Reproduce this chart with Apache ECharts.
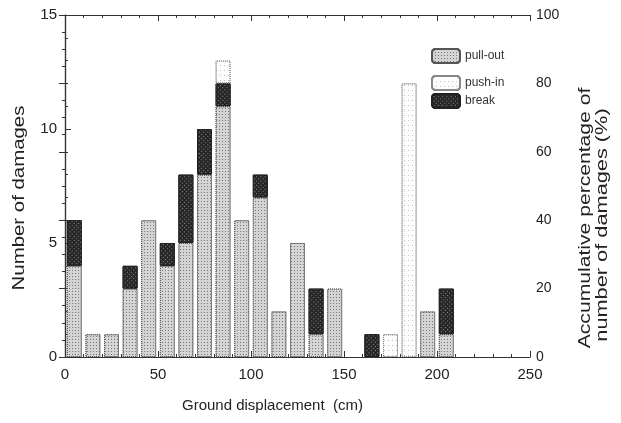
<!DOCTYPE html>
<html>
<head>
<meta charset="utf-8">
<script src="https://cdn.jsdelivr.net/npm/echarts@6/dist/echarts.min.js"></script>
<style>
  html, body { margin: 0; padding: 0; background: #fff; }
  #chart { width: 621px; height: 423px; }
</style>
</head>
<body>
<div id="chart"></div>
<script>
// 10 cm bins from 0 to 250, labelled by bin centre
var binCenters = [5, 15, 25, 35, 45, 55, 65, 75, 85, 95, 105, 115, 125, 135, 145, 155, 165, 175, 185, 195, 205, 215, 225, 235, 245];
var pullOut   = [4, 1, 1, 3, 6, 4, 5, 8, 11, 6, 7, 2, 5, 1, 3, 0, 0, 0, 0, 2, 1];
var breakCnt  = [2, 0, 0, 1, 0, 1, 3, 2, 1, 0, 1, 0, 0, 2, 0, 0, 1, 0, 0, 0, 2];
var pushIn    = [0, 0, 0, 0, 0, 0, 0, 0, 1, 0, 0, 0, 0, 0, 0, 0, 0, 1, 12, 0, 0];
var xTicks = [0, 50, 100, 150, 200, 250];
var leftTicks = [0, 5, 10, 15];
var rightTicks = [0, 20, 40, 60, 80, 100];

function nz(vals) {
    return vals.map(function (v) { return v ? v : '-'; });
}

var font = 'Liberation Sans';
var textColor = '#222';

var pullStyle = {
    color: '#d4d4d4',
    borderColor: '#555',
    borderWidth: 1,
    borderType: 'dotted',
    decal: { symbol: 'rect', symbolSize: 1, color: '#777', dashArrayX: [1, 2], dashArrayY: [1, 2] }
};
var pushStyle = {
    color: '#fcfcfc',
    borderColor: '#888',
    borderWidth: 1,
    borderType: 'dotted',
    decal: { symbol: 'rect', symbolSize: 1, color: '#c4c4c4', dashArrayX: [1, 3], dashArrayY: [1, 4] }
};
var breakStyle = {
    color: '#262626',
    borderColor: '#222',
    borderWidth: 1,
    decal: { symbol: 'rect', symbolSize: 1, color: '#8c8c8c', dashArrayX: [1, 2], dashArrayY: [1, 2], rotation: Math.PI / 4 }
};

var tickStyle = { color: '#333' };

function legendAt(name, top) {
    return {
        left: 426, top: top,
        itemWidth: 28, itemHeight: 14,
        data: [name],
        textStyle: { fontFamily: font, fontSize: 12, color: '#333' }
    };
}

var chart = echarts.init(document.getElementById('chart'));
chart.setOption({
    animation: false,
    backgroundColor: '#fff',
    textStyle: { fontFamily: font, color: textColor },
    grid: { left: 65, right: 91, top: 15, bottom: 66 },
    legend: [legendAt('pull-out', 43), legendAt('push-in', 70), legendAt('break', 88)],
    xAxis: [{
        type: 'category',
        data: binCenters,
        position: 'bottom',
        show: false
    }, {
        type: 'value',
        position: 'bottom',
        min: 0, max: 250, interval: 50,
        axisLine: { lineStyle: { color: '#333', width: 1.2 } },
        axisTick: { inside: true, length: 6, lineStyle: tickStyle },
        minorTick: { show: true, splitNumber: 5, length: 3, lineStyle: tickStyle },
        splitLine: { show: false },
        axisLabel: {
            fontSize: 15, color: textColor, margin: 10,
            formatter: function (v) { return xTicks.indexOf(v) >= 0 ? v : ''; }
        }
    }, {
        type: 'value',
        position: 'top',
        min: 0, max: 250, interval: 50,
        axisLine: { show: true, lineStyle: { color: '#333', width: 1.2 } },
        axisTick: { inside: true, length: 6, lineStyle: tickStyle },
        minorTick: { show: true, splitNumber: 5, length: 3, lineStyle: tickStyle },
        splitLine: { show: false },
        axisLabel: { show: false }
    }],
    yAxis: [{
        type: 'value',
        min: 0, max: 15, interval: 5,
        axisLine: { show: true, lineStyle: { color: '#333', width: 1.2 } },
        axisTick: { inside: true, length: 6, lineStyle: tickStyle },
        minorTick: { show: true, splitNumber: 5, length: 3, lineStyle: tickStyle },
        splitLine: { show: false },
        axisLabel: {
            fontSize: 15, color: textColor, margin: 8,
            formatter: function (v) { return leftTicks.indexOf(v) >= 0 ? v : ''; }
        }
    }, {
        type: 'value',
        min: 0, max: 100, interval: 20,
        position: 'right',
        axisLine: { show: true, lineStyle: { color: '#333', width: 1.2 } },
        axisTick: { inside: true, length: 6, lineStyle: tickStyle },
        minorTick: { show: true, splitNumber: 4, length: 3, lineStyle: tickStyle },
        splitLine: { show: false },
        axisLabel: {
            fontSize: 14, color: textColor, margin: 6,
            formatter: function (v) { return rightTicks.indexOf(v) >= 0 ? v : ''; }
        }
    }],
    graphic: [{
        type: 'text',
        left: 182,
        top: 398,
        style: { text: 'Ground displacement  (cm)', font: '15px "Liberation Sans"', fill: textColor }
    }, {
        type: 'text',
        x: 19, y: 198,
        rotation: Math.PI / 2,
        scaleX: 1.2,
        style: { text: 'Number of damages', font: '17px "Liberation Sans"', fill: textColor, align: 'center', verticalAlign: 'middle' }
    }, {
        type: 'text',
        x: 586, y: 218,
        rotation: Math.PI / 2,
        scaleX: 1.32,
        style: { text: 'Accumulative percentage of', font: '16px "Liberation Sans"', fill: textColor, align: 'center', verticalAlign: 'middle' }
    }, {
        type: 'text',
        x: 603, y: 225,
        rotation: Math.PI / 2,
        scaleX: 1.36,
        style: { text: 'number of damages (%)', font: '16px "Liberation Sans"', fill: textColor, align: 'center', verticalAlign: 'middle' }
    }],
    series: [{
        name: 'pull-out',
        type: 'bar',
        stack: 'dmg',
        barWidth: 15,
        itemStyle: pullStyle,
        data: nz(pullOut)
    }, {
        name: 'break',
        type: 'bar',
        stack: 'dmg',
        barWidth: 15,
        itemStyle: breakStyle,
        data: nz(breakCnt)
    }, {
        name: 'push-in',
        type: 'bar',
        stack: 'dmg',
        barWidth: 15,
        itemStyle: pushStyle,
        data: nz(pushIn)
    }]
});
</script>
</body>
</html>
